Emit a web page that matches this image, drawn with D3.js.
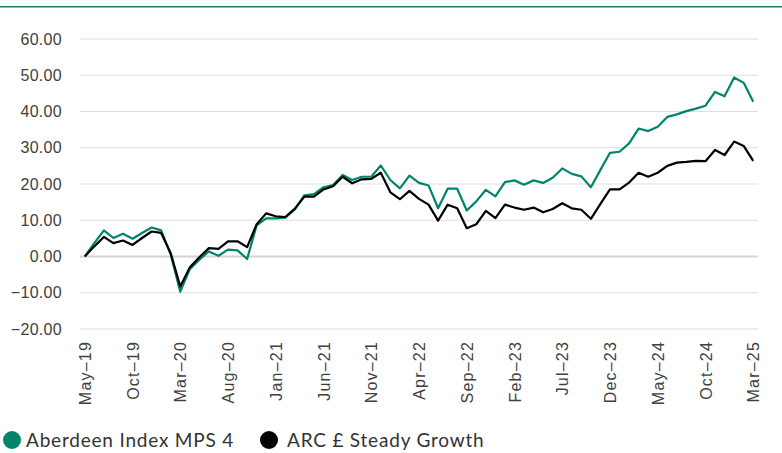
<!DOCTYPE html>
<html>
<head>
<meta charset="utf-8">
<script src="https://cdn.jsdelivr.net/npm/d3@7"></script>
<style>
  body { margin: 0; background: #fff; }
  svg { display: block; font-family: Lato, "Open Sans", sans-serif; }
</style>
</head>
<body>
<svg id="chart" width="782" height="453"></svg>
<script>
// monthly categories May-19 .. Mar-25
const months = d3.timeMonth.range(new Date(2019, 4, 1), new Date(2025, 3, 1))
  .map(d3.timeFormat('%b-%y'));

const seriesNames = ['Aberdeen Index MPS 4', 'ARC £ Steady Growth'];
const seriesColors = ['#00856a', '#000000'];

const aberdeen = [
  0, 3.7, 7.2, 5.1, 6.3, 4.9, 6.5, 8.0, 7.2, 0.5,
  -9.7, -3.5, -0.9, 1.4, 0.2, 1.9, 1.7, -0.7, 8.6, 10.5,
  10.5, 10.7, 13.0, 16.9, 17.2, 19.1, 19.7, 22.5, 21.1, 22.0,
  22.0, 25.1, 21.1, 18.8, 22.3, 20.3, 19.6, 13.3, 18.7, 18.7,
  12.7, 15.2, 18.4, 16.6, 20.5, 21.0, 19.8, 21.0, 20.3, 21.7,
  24.3, 22.8, 22.1, 19.1, 23.9, 28.6, 28.9, 31.2, 35.3, 34.6,
  35.8, 38.5, 39.2, 40.1, 40.8, 41.6, 45.4, 44.2, 49.4, 47.9,
  42.7
];

const arc = [
  0, 2.8, 5.4, 3.7, 4.4, 3.2, 5.1, 6.9, 6.5, 0.9,
  -8.3, -3.0, -0.2, 2.3, 2.1, 4.2, 4.2, 2.6, 8.9, 11.9,
  11.1, 10.9, 13.2, 16.5, 16.5, 18.5, 19.4, 22.0, 20.2, 21.3,
  21.4, 23.1, 17.7, 15.8, 18.1, 15.9, 14.3, 9.9, 14.3, 13.3,
  7.8, 8.9, 12.6, 10.6, 14.3, 13.5, 12.9, 13.5, 12.2, 13.1,
  14.7, 13.3, 12.9, 10.4, 14.5, 18.5, 18.5, 20.4, 23.1, 22.0,
  23.1, 25.0, 25.9, 26.1, 26.4, 26.3, 29.4, 28.0, 31.7, 30.5,
  26.4
];

const yTicks = [-20, -10, 0, 10, 20, 30, 40, 50, 60];

const svg = d3.select('#chart');

// thin rule across the top
svg.append('rect')
  .attr('x', 0).attr('y', 6)
  .attr('width', 782).attr('height', 1.5)
  .attr('fill', '#1d7a5c');

const x = d3.scalePoint()
  .domain(months)
  .range([80, 758])
  .padding(0.5);

const y = d3.scaleLinear()
  .domain([-20, 60])
  .range([329, 39]);

// grid
svg.append('g')
  .selectAll('line')
  .data(yTicks)
  .enter().append('line')
  .attr('x1', 80).attr('x2', 758)
  .attr('y1', function(d) { return y(d); })
  .attr('y2', function(d) { return y(d); })
  .attr('stroke', function(d) { return d === 0 ? '#d4d4d4' : '#dedede'; })
  .attr('stroke-width', function(d) { return d === 0 ? 2.2 : 1.2; });

// y axis labels
const yAxis = svg.append('g')
  .attr('transform', 'translate(80,0)')
  .call(d3.axisLeft(y).tickValues(yTicks).tickFormat(d3.format('.2f')).tickSize(0).tickPadding(18));
yAxis.select('.domain').remove();
yAxis.selectAll('text')
  .attr('fill', '#404040')
  .style('font-size', '16px')
  .style('letter-spacing', '0.3px')
  .text(function(d) { return d3.format('.2f')(d).replace('-', '\u2212'); });

// x axis labels, every 5th month
const xTicks = months.filter(function(m, i) { return i % 5 === 0; });
const xAxis = svg.append('g')
  .attr('transform', 'translate(0,329)')
  .call(d3.axisBottom(x).tickValues(xTicks).tickSize(0).tickPadding(0));
xAxis.select('.domain').remove();
xAxis.selectAll('text')
  .attr('fill', '#404040')
  .style('font-size', '16px')
  .style('letter-spacing', '1.2px')
  .attr('text-anchor', 'end')
  .attr('dy', '0.35em')
  .attr('transform', 'translate(0,12) rotate(-90)')
  .attr('x', 0).attr('y', 0)
  .text(function(d) { return d.replace('-', '\u2013'); });

// lines
const line = d3.line()
  .x(function(d, i) { return x(months[i]); })
  .y(function(d) { return y(d); });

svg.append('g')
  .selectAll('path')
  .data([aberdeen, arc])
  .enter().append('path')
  .attr('fill', 'none')
  .attr('stroke', function(d, i) { return seriesColors[i]; })
  .attr('stroke-width', 2.2)
  .attr('stroke-linejoin', 'round')
  .attr('d', line);

// legend
const legendX = [12, 269];
const legend = svg.append('g')
  .selectAll('g')
  .data(seriesNames)
  .enter().append('g')
  .attr('transform', function(d, i) { return 'translate(' + legendX[i] + ',440)'; });

legend.append('circle')
  .attr('r', 9)
  .attr('fill', function(d, i) { return seriesColors[i]; });

legend.append('text')
  .attr('x', function(d, i) { return i === 0 ? 14 : 18; })
  .attr('dy', '0.35em')
  .attr('fill', '#333')
  .style('font-size', '19px')
  .style('letter-spacing', '0.8px')
  .text(function(d) { return d; });
</script>
</body>
</html>
